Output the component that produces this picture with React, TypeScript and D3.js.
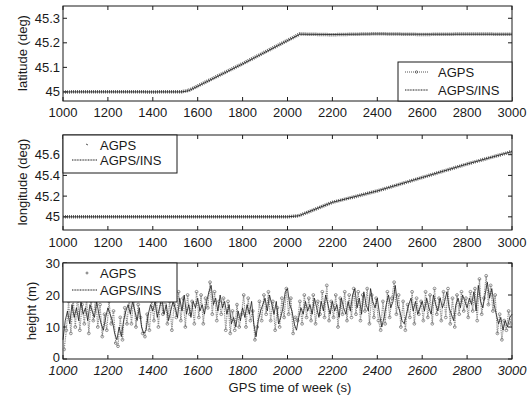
import React from 'react';
import * as d3 from 'd3';

// latitude / longitude: breakpoints
const latTime = [1000, 1200, 1400, 1530, 1560, 1800, 2055, 2200, 2400, 2600, 2800, 3000];
const latAgps = [45.0, 45.001, 45.0, 45.001, 45.006, 45.115, 45.236, 45.233, 45.237, 45.234, 45.236, 45.235];
const latIns = [45.0, 45.0, 45.0, 45.0, 45.005, 45.114, 45.235, 45.234, 45.236, 45.235, 45.235, 45.235];

const lonTime = [1000, 1400, 1800, 2000, 2050, 2200, 2400, 2600, 2800, 3000];
const lonAgps = [45.0, 45.0, 45.0, 45.0, 45.01, 45.14, 45.25, 45.38, 45.51, 45.63];
const lonIns = [45.0, 45.0, 45.0, 45.0, 45.01, 45.14, 45.25, 45.38, 45.51, 45.63];

// height, AGPS/INS every 10 s from 1000
const heightIns = [
  6, 12, 15, 11, 17, 13, 16, 12, 18, 14,
  16, 12, 17, 15, 13, 18, 14, 11, 9, 13,
  16, 14, 12, 8, 6, 10, 7, 12, 15, 17,
  14, 18, 15, 12, 16, 10, 8, 9, 14, 17,
  15, 18, 13, 16, 19, 14, 17, 12, 15, 18,
  16, 13, 19, 15, 20, 14, 17, 13, 18, 16,
  19, 15, 17, 14, 18, 21, 23, 17, 19, 15,
  20, 16, 18, 14, 17, 11, 13, 10, 15, 12,
  16, 13, 17, 14, 18, 11, 7, 12, 15, 17,
  19, 15, 20, 17, 14, 18, 11, 13, 16, 21,
  22, 17, 15, 11, 9, 13, 16, 14, 18, 15,
  17, 14, 19, 16, 13, 18, 15, 20, 17, 14,
  18, 15, 17, 13, 19, 16, 14, 18, 15, 20,
  22, 16, 19, 14, 21, 17, 15, 22, 18, 16,
  19, 14, 10, 13, 17, 20, 16, 18, 23, 17,
  15, 12, 11, 14, 17, 19, 15, 18, 14, 16,
  18, 15, 19, 16, 14, 20, 17, 15, 19, 16,
  18, 21, 16, 14, 12, 17, 19, 16, 20, 18,
  16, 19, 17, 21, 15, 23, 18, 16, 20, 24,
  19, 22, 17, 14, 11, 13, 9, 12, 10, 13,
  14,
];

// height, AGPS every 10 s from 1005
const heightAgps = [
  3, 9, 18, 8, 19, 10, 20, 9, 17, 11,
  19, 8, 18, 12, 20, 10, 17, 7, 14, 9,
  18, 11, 15, 5, 4, 13, 6, 16, 11, 19,
  11, 19, 10, 17, 13, 8, 7, 14, 9, 18,
  12, 20, 10, 19, 14, 21, 11, 18, 9, 17,
  13, 21, 12, 19, 10, 20, 14, 18, 11, 21,
  13, 20, 11, 19, 16, 24, 14, 21, 12, 18,
  14, 19, 9, 18, 8, 15, 9, 17, 10, 14,
  20, 10, 19, 12, 15, 6, 10, 18, 12, 20,
  14, 21, 12, 18, 9, 16, 10, 19, 13, 22,
  14, 19, 8, 13, 12, 18, 11, 20, 13, 19,
  12, 20, 11, 18, 14, 21, 13, 23, 12, 18,
  13, 20, 10, 19, 14, 21, 12, 20, 13, 22,
  14, 21, 12, 20, 15, 22, 11, 20, 13, 19,
  12, 9, 18, 11, 21, 13, 19, 24, 14, 20,
  10, 18, 9, 17, 13, 21, 11, 19, 14, 18,
  12, 21, 13, 20, 11, 22, 14, 19, 12, 21,
  13, 22, 11, 19, 10, 20, 14, 21, 15, 19,
  13, 21, 15, 22, 12, 25, 14, 19, 26, 17,
  23, 15, 20, 8, 14, 6, 12, 9, 15, 11,
];

const xTicks = [1000, 1200, 1400, 1600, 1800, 2000, 2200, 2400, 2600, 2800, 3000];
const latTicks = [45, 45.1, 45.2, 45.3];
const lonTicks = [45, 45.2, 45.4, 45.6];
const heightTicks = [0, 10, 20, 30];

const FONT = '"Liberation Sans", Arial, Helvetica, sans-serif';
const INK = '#1a1a1a';

const x = d3.scaleLinear().domain([1000, 3000]).range([63, 512]);

const Box = ({ y, ticksY, fmt, italic, xLabelY }) => {
  const [y0, y1] = y.range().slice().sort((a, b) => a - b);
  return (
    <g>
      <rect x={63} y={y0} width={449} height={y1 - y0} fill="none" stroke={INK} strokeWidth={1} />
      {xTicks.map(t => (
        <g key={'x' + t}>
          <line x1={x(t)} x2={x(t)} y1={y1} y2={y1 - 4} stroke={INK} />
          <line x1={x(t)} x2={x(t)} y1={y0} y2={y0 + 4} stroke={INK} />
          <text x={x(t)} y={xLabelY} textAnchor="middle" fontSize={13}
            fontStyle={italic ? 'italic' : 'normal'} fill={INK}>{t}</text>
        </g>
      ))}
      {ticksY.map(t => (
        <g key={'y' + t}>
          <line x1={63} x2={67} y1={y(t)} y2={y(t)} stroke={INK} />
          <line x1={512} x2={508} y1={y(t)} y2={y(t)} stroke={INK} />
          <text x={60} y={y(t) + (italic && t === 0 ? 2.5 : 4.5)} textAnchor="end" fontSize={13} fill={INK}>{fmt(t)}</text>
        </g>
      ))}
    </g>
  );
};

const App = () => {
  const yLat = d3.scaleLinear().domain([44.963, 45.35]).range([101, 6]);
  const yLon = d3.scaleLinear().domain([44.873, 45.79]).range([230, 135]);
  const yH = d3.scaleLinear().domain([0, 30]).range([359, 263]);

  const fmtDeg = d => (d === 45 ? '45' : d3.format('.1f')(d));

  const latLine = (vals) => d3.line().x((d, i) => x(latTime[i])).y(d => yLat(d))(vals);
  const lonLine = (vals) => d3.line().x((d, i) => x(lonTime[i])).y(d => yLon(d))(vals);
  const insH = d3.line().x((d, i) => x(1000 + 10 * i)).y(d => yH(d))(heightIns);
  const agpsH = d3.line().x((d, i) => x(1005 + 10 * i)).y(d => yH(d))(heightAgps);

  return (
    <svg width={531} height={399} style={{ position: 'absolute', left: 0, top: 0, fontFamily: FONT }}>
      <rect width={531} height={399} fill="#fff" />

      {/* latitude */}
      <Box y={yLat} ticksY={latTicks} fmt={fmtDeg} xLabelY={117} />
      <path d={latLine(latAgps)} fill="none" stroke="#666" strokeWidth={3.5} strokeDasharray="1 1" />
      <path d={latLine(latIns)} fill="none" stroke={INK} strokeWidth={0.8} />
      <text transform="translate(27,53) rotate(-90)" textAnchor="middle" fontSize={13} fill={INK}>latitude (deg)</text>
      <g>
        <rect x={398} y={62} width={114} height={39} fill="#fff" stroke={INK} />
        <line x1={405} x2={428} y1={72} y2={72} stroke="#555" strokeWidth={1} strokeDasharray="1 1" />
        <circle cx={416.5} cy={72} r={1.2} fill="none" stroke="#555" strokeWidth={0.8} />
        <text x={438} y={76.5} fontSize={13} fill={INK}>AGPS</text>
        <line x1={405} x2={428} y1={90} y2={90} stroke={INK} strokeWidth={1} strokeDasharray="1 0.6" />
        <text x={438} y={94.5} fontSize={13} fill={INK}>AGPS/INS</text>
      </g>

      {/* longitude */}
      <Box y={yLon} ticksY={lonTicks} fmt={fmtDeg} xLabelY={247} />
      <path d={lonLine(lonAgps)} fill="none" stroke="#666" strokeWidth={3.5} strokeDasharray="1 1" />
      <path d={lonLine(lonIns)} fill="none" stroke={INK} strokeWidth={0.8} />
      <text transform="translate(27,182) rotate(-90)" textAnchor="middle" fontSize={13} fill={INK}>longitude (deg)</text>
      <g>
        <rect x={63} y={135} width={114} height={38} fill="#fff" stroke={INK} />
        <line x1={86} x2={88} y1={144} y2={145} stroke="#555" strokeWidth={1} />
        <text x={100} y={149.5} fontSize={13} fill={INK}>AGPS</text>
        <line x1={72} x2={97} y1={160} y2={160} stroke={INK} strokeWidth={1} strokeDasharray="1 0.6" />
        <text x={100} y={164.5} fontSize={13} fill={INK}>AGPS/INS</text>
      </g>

      {/* height */}
      <Box y={yH} ticksY={heightTicks} fmt={d => String(d)} italic xLabelY={375} />
      <path d={agpsH} fill="none" stroke="#8a8a8a" strokeWidth={1.2} strokeDasharray="1 0.8" />
      {heightAgps.map((v, i) => (
        <circle key={i} cx={x(1005 + 10 * i)} cy={yH(v)} r={1.4} fill="none" stroke="#777" strokeWidth={0.8} />
      ))}
      <path d={insH} fill="none" stroke={INK} strokeWidth={0.8} />
      <text transform="translate(36,311) rotate(-90)" textAnchor="middle" fontSize={13} fill={INK}>height (m)</text>
      <text x={290} y={392} textAnchor="middle" fontSize={13} fill={INK}>GPS time of week (s)</text>
      <g>
        <rect x={63} y={263} width={114} height={39} fill="#fff" stroke={INK} />
        <circle cx={87} cy={273} r={1} fill="none" stroke="#555" strokeWidth={0.8} />
        <text x={100} y={278} fontSize={13} fill={INK}>AGPS</text>
        <line x1={72} x2={97} y1={290} y2={290} stroke={INK} strokeWidth={1} strokeDasharray="1 0.6" />
        <text x={100} y={294.5} fontSize={13} fill={INK}>AGPS/INS</text>
      </g>
    </svg>
  );
};

export default App;
